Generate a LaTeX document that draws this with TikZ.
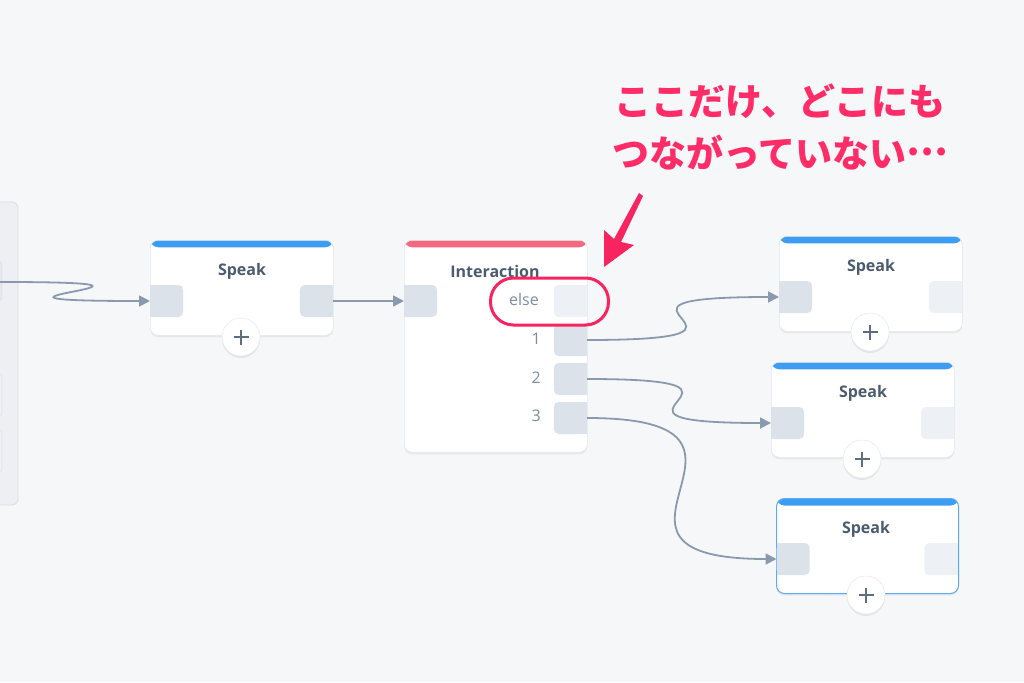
\documentclass[tikz,border=0pt]{standalone}
\usepackage{fontspec}
\setmainfont{Open Sans}
\newfontfamily\cjk{Noto Sans CJK JP}
\usetikzlibrary{arrows.meta,shadows}
\definecolor{bgc}{HTML}{F6F7F9}
\definecolor{linec}{HTML}{8A9AAE}
\definecolor{portc}{HTML}{DCE2EA}
\definecolor{portl}{HTML}{EDF0F4}
\definecolor{bluec}{HTML}{3D9DF3}
\definecolor{bluebd}{HTML}{5AAAF4}
\definecolor{redtop}{HTML}{F4697F}
\definecolor{hlred}{HTML}{F7245F}
\definecolor{titlec}{HTML}{4B5B70}
\definecolor{labelc}{HTML}{7D8DA1}
\definecolor{plusc}{HTML}{5E6E82}
\definecolor{panelc}{HTML}{EDEFF3}
\definecolor{panelb}{HTML}{D9DEE5}
\definecolor{cardb}{HTML}{E4E8ED}
\definecolor{jpc}{HTML}{FF2C68}
\tikzset{
  cardbody/.style={rectangle, rounded corners=8pt, fill=white, draw=cardb, line width=0.5pt,
    minimum width=183pt, inner sep=0pt, anchor=north west,
    drop shadow={shadow xshift=0pt, shadow yshift=-2pt, fill=black, opacity=0.06}},
  topbar/.style={path picture={\fill[#1] (path picture bounding box.north west) rectangle ([yshift=-7pt]path picture bounding box.north east);}},
  portbox/.style={rectangle, rounded corners=5pt, fill=portc, minimum width=33pt, minimum height=32pt, inner sep=0pt},
  portlight/.style={portbox, fill=portl},
  plusbtn/.style={circle, fill=white, draw=cardb, line width=0.5pt, minimum size=38pt, inner sep=0pt,
    drop shadow={shadow xshift=0pt, shadow yshift=-2pt, fill=black, opacity=0.07},
    path picture={\draw[plusc, line width=1.3pt] ([xshift=-7.5pt]path picture bounding box.center) -- ([xshift=7.5pt]path picture bounding box.center);
                  \draw[plusc, line width=1.3pt] ([yshift=-7.5pt]path picture bounding box.center) -- ([yshift=7.5pt]path picture bounding box.center);}},
  cardtitle/.style={font=\fontsize{16}{18}\selectfont\bfseries, text=titlec, inner sep=0pt},
  portlabel/.style={font=\fontsize{16}{18}\selectfont, text=labelc, inner sep=0pt},
  link/.style={draw=linec, line width=1.8pt, -{Triangle[length=11pt,width=11pt]}},
  jptext/.style={font=\cjk\bfseries\fontsize{37}{40}\selectfont, text=jpc, inner sep=0pt},
}
\begin{document}
\begin{tikzpicture}[x=1pt,y=-1pt]
\useasboundingbox (0,0) rectangle (1024,682);
\fill[bgc] (0,0) rectangle (1024,682);

% left panel
\draw[fill=panelc, draw=panelb, line width=0.8pt, rounded corners=6pt] (-20,202) rectangle (18,505);
\node[rectangle, fill=cardb, draw=panelb, rounded corners=3pt, minimum width=22pt, minimum height=40pt, anchor=east, inner sep=0pt] (pb1) at (2,281) {};
\node[rectangle, fill=portl, draw=panelb, rounded corners=3pt, minimum width=22pt, minimum height=43pt, anchor=east, inner sep=0pt] (pb2) at (2,394.5) {};
\node[rectangle, fill=portl, draw=panelb, rounded corners=3pt, minimum width=22pt, minimum height=42pt, anchor=east, inner sep=0pt] (pb3) at (2,451) {};
\coordinate (lp) at (0,282);

% Speak 1
\node[cardbody, topbar=bluec, minimum height=95pt] (s1) at (150,240) {};
\node[portbox, anchor=west] (s1in) at (150,301) {};
\fill[portc] (s1in.north west) rectangle (s1in.south);
\node[portbox, anchor=east] (s1out) at (333,301) {};
\fill[portc] (s1out.north) rectangle (s1out.south east);
\node[cardtitle] (s1t) at (242,271) {Speak};
\node[plusbtn] (s1p) at (241,337) {};

% Interaction
\node[cardbody, topbar=redtop, minimum height=212pt] (ia) at (404,240) {};
\node[portbox, anchor=west] (iin) at (404,301) {};
\fill[portc] (iin.north west) rectangle (iin.south);
\node[portlight, anchor=east] (pe) at (587,301) {};
\fill[portl] (pe.north) rectangle (pe.south east);
\node[portbox, anchor=east] (p1) at (587,340) {};
\fill[portc] (p1.north) rectangle (p1.south east);
\node[portbox, anchor=east] (p2) at (587,379) {};
\fill[portc] (p2.north) rectangle (p2.south east);
\node[portbox, anchor=east] (p3) at (587,418) {};
\fill[portc] (p3.north) rectangle (p3.south east);
\node[cardtitle] (iat) at (495,271) {Interaction};
\node[portlabel] (le) at (524,299) {else};
\node[portlabel, anchor=east] (l1) at (541,339) {1};
\node[portlabel, anchor=east] (l2) at (541,378) {2};
\node[portlabel, anchor=east] (l3) at (541,416) {3};

% Speak 2
\node[cardbody, topbar=bluec, minimum height=95pt] (s2) at (779,236) {};
\node[portbox, anchor=west] (s2in) at (779,297) {};
\fill[portc] (s2in.north west) rectangle (s2in.south);
\node[portlight, anchor=east] (s2out) at (962,297) {};
\fill[portl] (s2out.north) rectangle (s2out.south east);
\node[cardtitle] (s2t) at (871,267) {Speak};
\node[plusbtn] (s2p) at (870,332) {};

% Speak 3
\node[cardbody, topbar=bluec, minimum height=95pt] (s3) at (771,362) {};
\node[portbox, anchor=west] (s3in) at (771,423) {};
\fill[portc] (s3in.north west) rectangle (s3in.south);
\node[portlight, anchor=east] (s3out) at (954,423) {};
\fill[portl] (s3out.north) rectangle (s3out.south east);
\node[cardtitle] (s3t) at (863,393) {Speak};
\node[plusbtn] (s3p) at (862,459) {};

% Speak 4 (selected)
\node[cardbody, topbar=bluec, minimum height=95pt, minimum width=182pt, draw=bluebd, line width=1pt] (s4) at (776,498) {};
\node[portbox, anchor=west] (s4in) at (776.5,559) {};
\fill[portc] (s4in.north west) rectangle (s4in.south);
\node[portlight, anchor=east] (s4out) at (957.5,559) {};
\fill[portl] (s4out.north) rectangle (s4out.south east);
\node[cardtitle] (s4t) at (866,529) {Speak};
\node[plusbtn] (s4p) at (866,595) {};

% connectors
\draw[link] (lp) .. controls +(240,0) and +(-240,0) .. (s1in.west);
\draw[link] (s1out.east) -- (iin.west);
\draw[link] (p1.east) .. controls +(222,0) and +(-222,0) .. (s2in.west);
\draw[link] (p2.east) .. controls +(214,0) and +(-214,0) .. (s3in.west);
\draw[link] (p3.east) .. controls +(222,0) and +(-222,0) .. (s4in.west);

% highlight
\node[draw=hlred, line width=3pt, rounded corners=23pt, minimum width=118pt, minimum height=47pt, inner sep=0pt] (hl) at (549.5,301.5) {};
\fill[hlred] (639,193) -- (643,196) -- (621,242) -- (634,245) -- (604,267) -- (604,230) -- (614,239) -- cycle;

% note
\node[jptext] (n1) at (780,101) {ここだけ、どこにも};
\node[jptext] (n2) at (780,153) {つながっていない\raisebox{0.33em}{…}};
\end{tikzpicture}
\end{document}
